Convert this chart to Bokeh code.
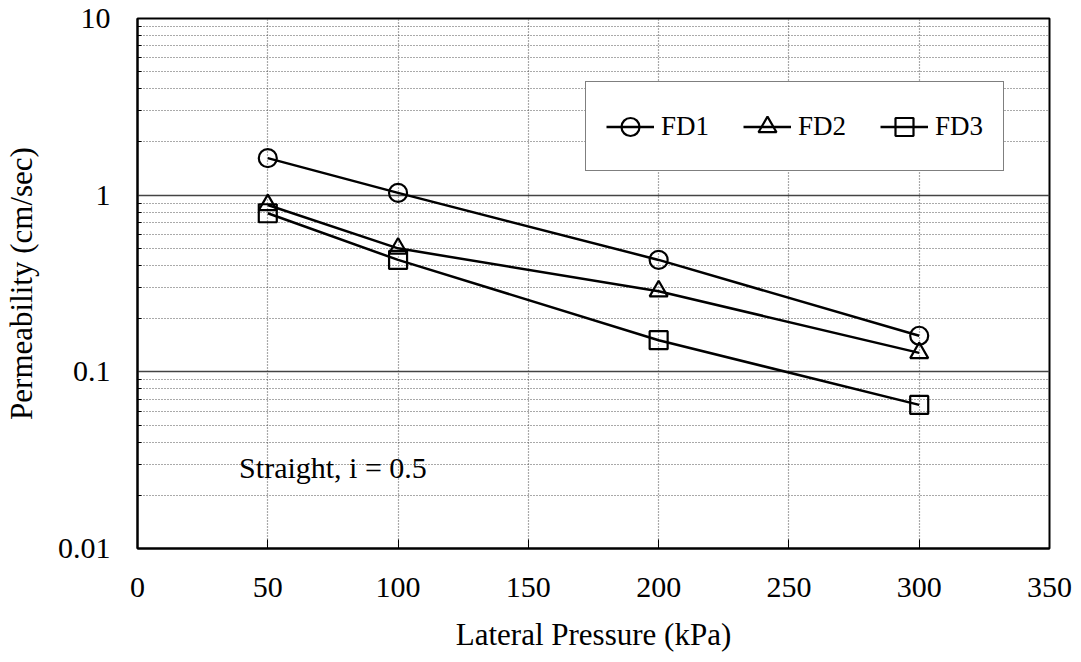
from bokeh.plotting import figure
from bokeh.models import Range1d, FixedTicker, CustomJSTickFormatter, Legend, LegendItem, Label
from bokeh.embed import file_html
from bokeh.resources import INLINE

# Data
pressure = [50, 100, 200, 300]
fd1 = [1.62, 1.03, 0.43, 0.16]
fd2 = [0.88, 0.50, 0.286, 0.128]
fd3 = [0.79, 0.43, 0.151, 0.065]
series_names = ["FD1", "FD2", "FD3"]
x_ticks = [0, 50, 100, 150, 200, 250, 300, 350]
y_ticks = [0.01, 0.1, 1, 10]
y_minor = [m * d for d in [0.01, 0.1, 1] for m in range(2, 10)]

FONT = "Liberation Serif"

p = figure(width=1075, height=662, x_range=Range1d(0, 350), y_range=Range1d(0.01, 10),
           y_axis_type="log", output_backend="svg", toolbar_location=None,
           min_border_left=135, min_border_right=26, min_border_top=18, min_border_bottom=114,
           background_fill_color="white", border_fill_color="white")

p.outline_line_color = "black"
p.outline_line_width = 2

# axes
xa = p.xaxis[0]
xa.ticker = FixedTicker(ticks=x_ticks)
xa.axis_label = "Lateral Pressure (kPa)"
ya = p.yaxis[0]
ya.ticker = FixedTicker(ticks=y_ticks, minor_ticks=y_minor)
ya.formatter = CustomJSTickFormatter(code="return tick >= 1 ? tick.toFixed(0) : tick.toString();")
ya.axis_label = "Permeability (cm/sec)"

for ax in (xa, ya):
    ax.axis_line_color = "black"
    ax.axis_line_width = 2
    ax.major_tick_out = 0
    ax.minor_tick_out = 0
    ax.major_tick_line_color = "black"
    ax.minor_tick_line_color = "black"
    ax.major_label_text_font = FONT
    ax.major_label_text_font_size = "30px"
    ax.major_label_text_color = "black"
    ax.axis_label_text_font = FONT
    ax.axis_label_text_font_size = "31px"
    ax.axis_label_text_font_style = "normal"
    ax.axis_label_text_color = "black"
xa.major_tick_in = 9
ya.major_tick_in = 0
ya.minor_tick_in = 4
xa.major_label_standoff = 29
xa.axis_label_standoff = 17
ya.major_label_standoff = 27
ya.axis_label_standoff = 16

# grids
p.xgrid.ticker = FixedTicker(ticks=x_ticks)
p.xgrid.grid_line_color = "#555555"
p.xgrid.grid_line_dash = "1 2"
p.xgrid.grid_line_width = 1.2
p.ygrid.ticker = FixedTicker(ticks=y_ticks, minor_ticks=y_minor)
p.ygrid.grid_line_color = "#444444"
p.ygrid.grid_line_width = 1.5
p.ygrid.minor_grid_line_color = "#555555"
p.ygrid.minor_grid_line_dash = "1 2"
p.ygrid.minor_grid_line_width = 1.2

# series
markers = ["circle", "triangle", "square"]
items = []
for name, ys, mk in zip(series_names, [fd1, fd2, fd3], markers):
    ln = p.line(pressure, ys, line_color="black", line_width=2.5)
    sc = p.scatter(pressure, ys, marker=mk, size=18, fill_color=None,
                   line_color="black", line_width=2.2)
    items.append(LegendItem(label=name, renderers=[ln, sc]))

legend = Legend(items=items, orientation="horizontal", location=(448, 377),
                margin=0, padding=20, spacing=34, label_standoff=7,
                glyph_width=48, glyph_height=45, label_height=48,
                label_text_font=FONT, label_text_font_size="27px", label_text_color="black",
                border_line_color="black", border_line_width=1.5,
                background_fill_color="white", background_fill_alpha=1.0)
p.add_layout(legend, "center")

note = Label(x=39, y=0.0286, text="Straight, i = 0.5", text_font=FONT,
             text_font_size="30px", text_color="black", text_baseline="alphabetic")
p.add_layout(note)

open("out.html", "w").write(file_html(p, INLINE))
